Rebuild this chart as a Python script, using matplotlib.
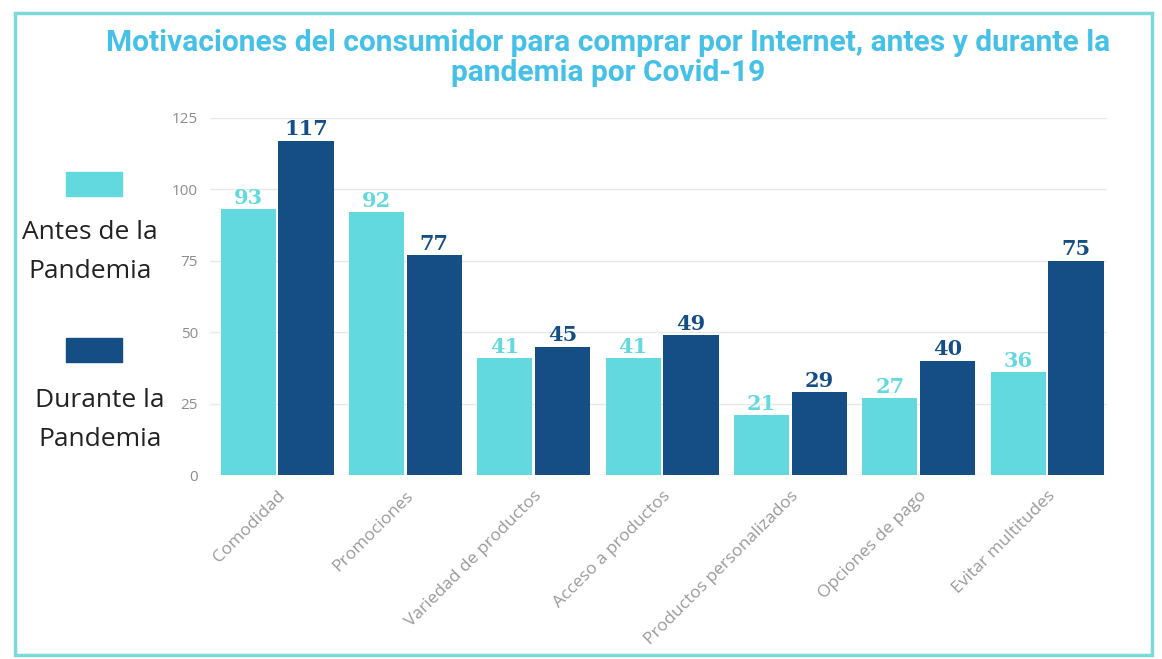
import numpy as np
import matplotlib.pyplot as plt
from matplotlib.patches import Rectangle

# datos
categorias = ["Comodidad", "Promociones", "Variedad de productos", "Acceso a productos",
              "Productos personalizados", "Opciones de pago", "Evitar multitudes"]
antes = [93, 92, 41, 41, 21, 27, 36]
durante = [117, 77, 45, 49, 29, 40, 75]
yticks = [0, 25, 50, 75, 100, 125]

c_antes = "#62D9DE"
c_durante = "#154E85"
c_titulo = "#45C0E6"

fig = plt.figure(figsize=(11.62, 6.59), dpi=100, facecolor="white")
ax = fig.add_axes([0.181, 0.279, 0.772, 0.542])

x = np.arange(len(categorias))
w = 0.43
b1 = ax.bar(x - 0.225, antes, w, color=c_antes, zorder=3)
b2 = ax.bar(x + 0.225, durante, w, color=c_durante, zorder=3)

# etiquetas de valores
for rect, v in zip(b1, antes):
    ax.annotate(str(v), (rect.get_x() + rect.get_width() / 2, v), xytext=(0, 1),
                textcoords="offset points", ha="center", va="bottom",
                family="DejaVu Serif", weight="bold", fontsize=15, color=c_antes)
for rect, v in zip(b2, durante):
    ax.annotate(str(v), (rect.get_x() + rect.get_width() / 2, v), xytext=(0, 1),
                textcoords="offset points", ha="center", va="bottom",
                family="DejaVu Serif", weight="bold", fontsize=15, color=c_durante)

ax.set_ylim(0, 125)
ax.set_xlim(-0.52, 6.47)
ax.set_yticks(yticks)
ax.set_yticklabels([str(t) for t in yticks], family="Open Sans", fontsize=11, color="#8c8c8c")
ax.set_xticks(x)
ax.set_xticklabels(categorias, rotation=45, ha="right", rotation_mode="anchor",
                   family="Open Sans", fontsize=12.5, color="#9a9a9a")
ax.tick_params(length=0, pad=9)
ax.yaxis.grid(True, color="#e8e8e8", linewidth=1, zorder=0)
for s in ax.spines.values():
    s.set_visible(False)

# titulo
fig.text(0.523, 0.912, "Motivaciones del consumidor para comprar por Internet, antes y durante la\npandemia por Covid-19",
         ha="center", va="center", family="Roboto", weight="bold", fontsize=21.5,
         color=c_titulo, linespacing=1.08)

# leyenda a la izquierda
fig.add_artist(Rectangle((66 / 1162, 1 - 196 / 659), 56 / 1162, 24 / 659,
                         transform=fig.transFigure, color=c_antes))
fig.text(90 / 1162, 1 - 252 / 659, "Antes de la\nPandemia", ha="center", va="center",
         family="Open Sans", fontsize=19, color="#222222", linespacing=1.75)
fig.add_artist(Rectangle((66 / 1162, 1 - 362 / 659), 56 / 1162, 24 / 659,
                         transform=fig.transFigure, color=c_durante))
fig.text(100 / 1162, 1 - 420 / 659, "Durante la\nPandemia", ha="center", va="center",
         family="Open Sans", fontsize=19, color="#222222", linespacing=1.75)

# marco
fig.add_artist(Rectangle((15 / 1162, 4 / 659), 1137 / 1162, 642 / 659,
                         transform=fig.transFigure, fill=False,
                         edgecolor="#7DD8D8", linewidth=2.5))

fig.savefig("out.png", dpi=100, facecolor="white")
